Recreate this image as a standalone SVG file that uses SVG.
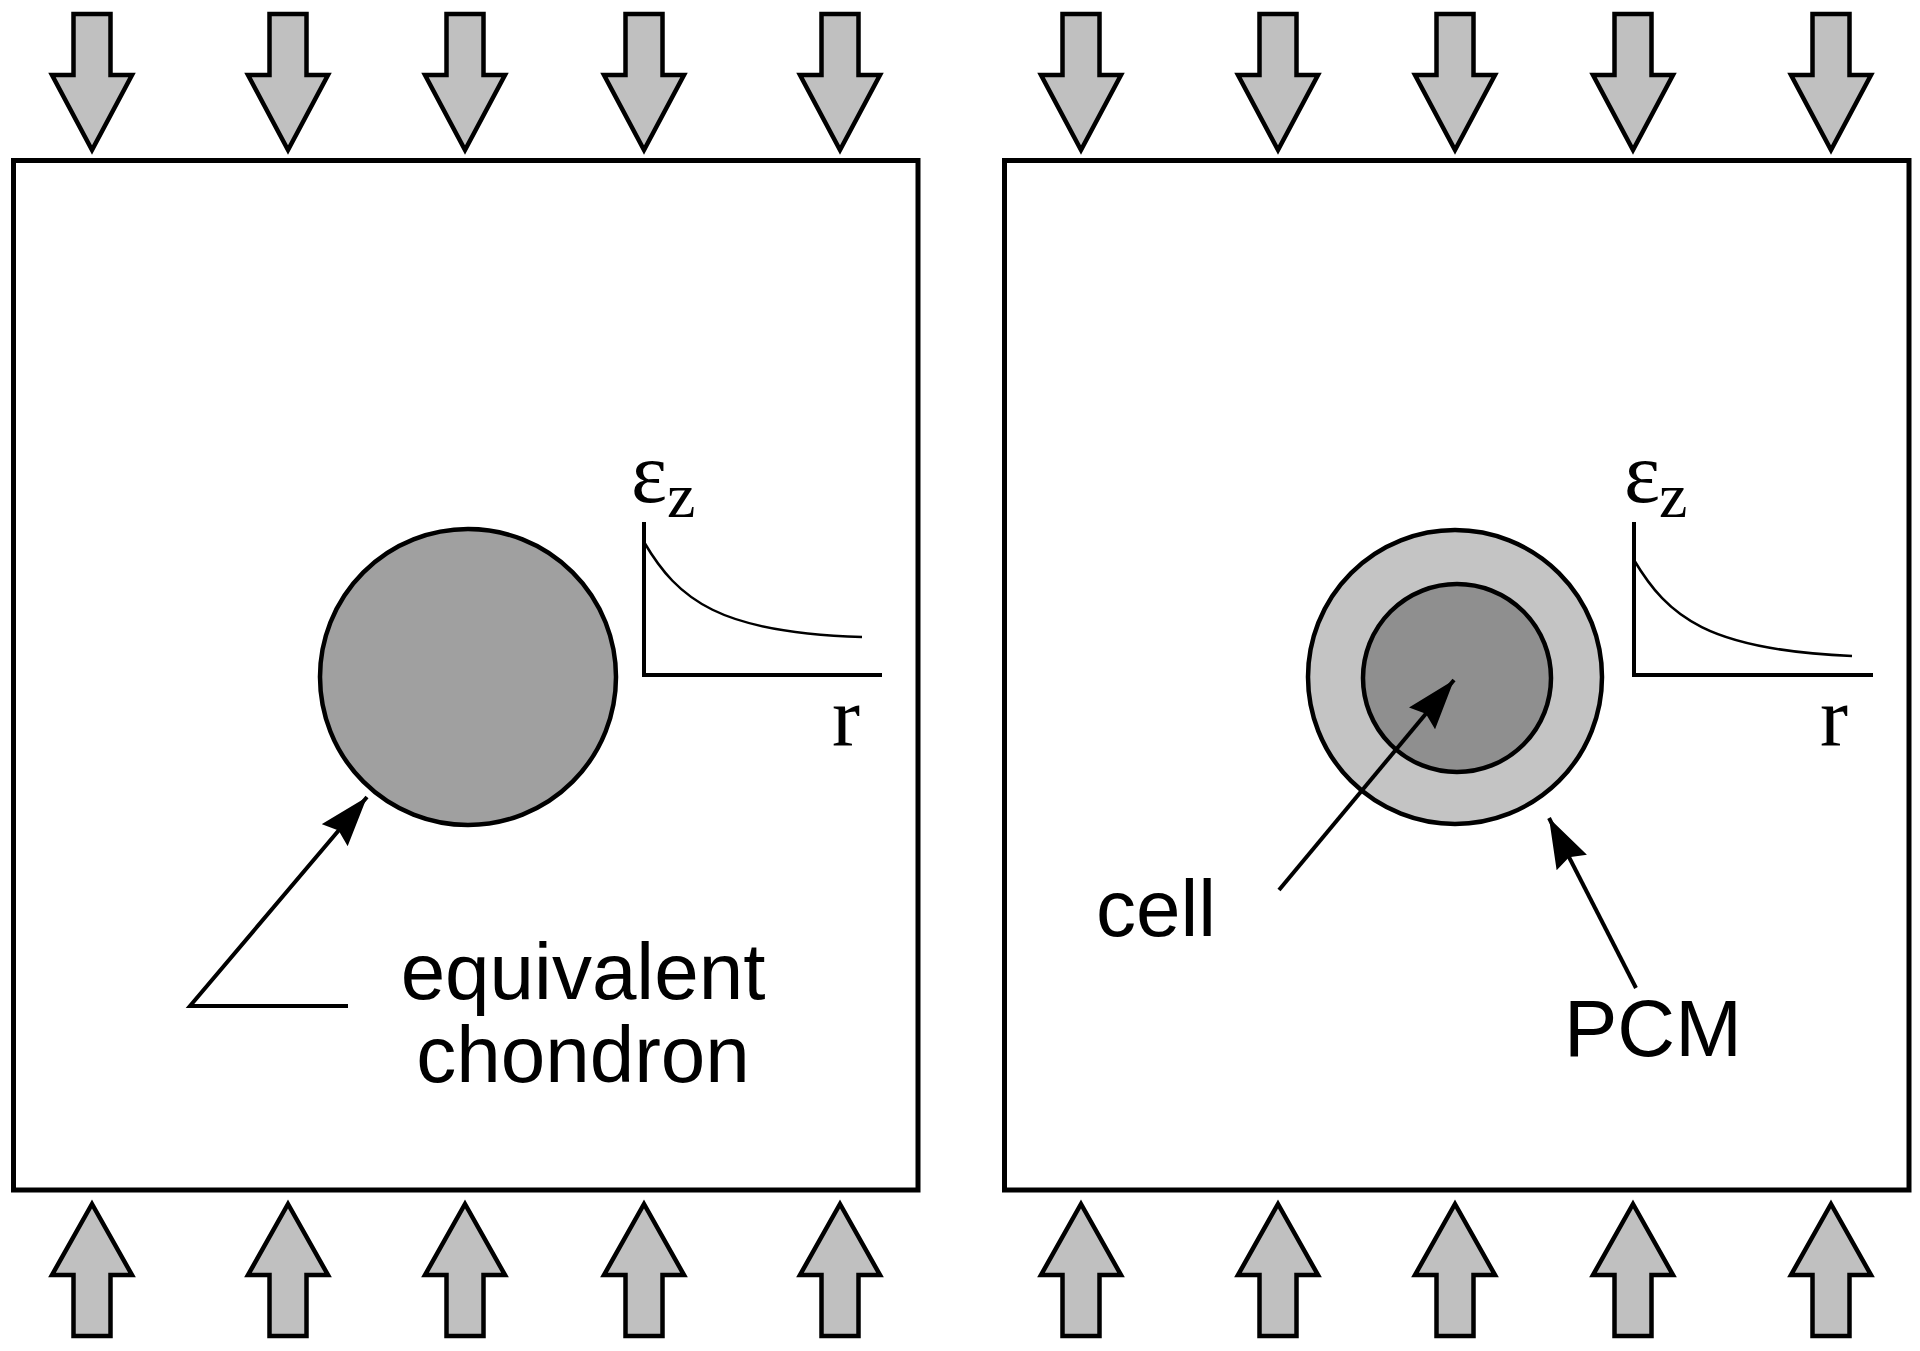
<svg xmlns="http://www.w3.org/2000/svg" xmlns:xlink="http://www.w3.org/1999/xlink" width="1920" height="1351" viewBox="0 0 1920 1351">
<style>
.box{fill:#ffffff;stroke:#000;stroke-width:5}
.load{fill:#c0c0c0;stroke:#000;stroke-width:4.5;stroke-linejoin:miter}
.cir{stroke:#000;stroke-width:4.5}
.axis{fill:none;stroke:#000;stroke-width:4}
.curve{fill:none;stroke:#000;stroke-width:2.5}
.lead{fill:none;stroke:#000;stroke-width:4}
.sans{font-family:"Liberation Sans",Arial,sans-serif;font-size:80px;fill:#000}
.serif{font-family:"Liberation Serif","Times New Roman",serif;fill:#000}
</style>
<defs>
<path id="down" d="M-18.5,14 H18.5 V75 H40 L0,150 L-40,75 H-18.5 Z"/>
<path id="up" d="M0,1204 L40,1275 H18.5 V1336 H-18.5 V1275 H-40 Z"/>
<marker id="ah" viewBox="0 0 50 34" refX="50" refY="17" markerWidth="50" markerHeight="34" markerUnits="userSpaceOnUse" orient="auto">
<path d="M0,0 L50,17 L0,34 L6,17 Z" fill="#000"/>
</marker>
</defs>
<rect width="1920" height="1351" fill="#fff"/>

<g id="panel-left">
<rect class="box" x="13.5" y="160.5" width="904.5" height="1029.5"/>
</g>
<g id="panel-right">
<rect class="box" x="1004.5" y="160.5" width="904.5" height="1029.5"/>
</g>

<g id="loads-top">
<use href="#down" class="load" x="92"/>
<use href="#down" class="load" x="288"/>
<use href="#down" class="load" x="465"/>
<use href="#down" class="load" x="644"/>
<use href="#down" class="load" x="840"/>
<use href="#down" class="load" x="1081"/>
<use href="#down" class="load" x="1278"/>
<use href="#down" class="load" x="1455"/>
<use href="#down" class="load" x="1633"/>
<use href="#down" class="load" x="1831"/>
</g>
<g id="loads-bottom">
<use href="#up" class="load" x="92"/>
<use href="#up" class="load" x="288"/>
<use href="#up" class="load" x="465"/>
<use href="#up" class="load" x="644"/>
<use href="#up" class="load" x="840"/>
<use href="#up" class="load" x="1081"/>
<use href="#up" class="load" x="1278"/>
<use href="#up" class="load" x="1455"/>
<use href="#up" class="load" x="1633"/>
<use href="#up" class="load" x="1831"/>
</g>

<g id="chondron">
<circle class="cir" cx="468" cy="677" r="148" fill="#a0a0a0"/>
</g>
<g id="pcm">
<circle class="cir" cx="1455" cy="677" r="147" fill="#c4c4c4"/>
</g>
<g id="cell">
<circle class="cir" cx="1457" cy="678" r="94" fill="#8f8f8f"/>
</g>

<g id="graph-left">
<path class="axis" d="M644,522 V675 H882"/>
<path class="curve" d="M644,542 C678,600 720,633 862,637"/>
<text class="serif" x="631" y="502" font-size="86">ε</text>
<text class="serif" x="667" y="517" font-size="64">z</text>
<text class="serif" x="832" y="745" font-size="84">r</text>
</g>
<g id="graph-right">
<path class="axis" d="M1634,522 V675 H1873"/>
<path class="curve" d="M1634,560 C1668,617 1708,650 1852,656"/>
<text class="serif" x="1624" y="502" font-size="86">ε</text>
<text class="serif" x="1659" y="517" font-size="64">z</text>
<text class="serif" x="1820" y="745" font-size="84">r</text>
</g>

<g id="connectors">
<path class="lead" d="M348,1006 H190 L367,797" marker-end="url(#ah)"/>
<path class="lead" d="M1279,890 L1454,680" marker-end="url(#ah)"/>
<path class="lead" d="M1636,988 L1549,818" marker-end="url(#ah)"/>
</g>

<g id="labels">
<text class="sans" x="583" y="999" text-anchor="middle">equivalent</text>
<text class="sans" x="583" y="1082" text-anchor="middle">chondron</text>
<text class="sans" x="1096" y="936">cell</text>
<text class="sans" x="1564" y="1056">PCM</text>
</g>
</svg>
